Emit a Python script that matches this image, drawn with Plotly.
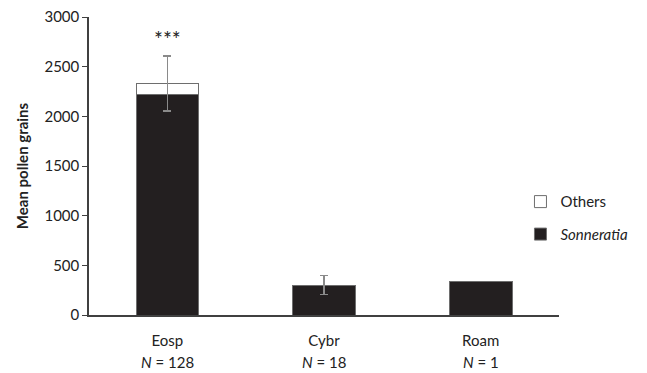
import plotly.graph_objects as go

categories = ["Eosp", "Cybr", "Roam"]
n_values = [128, 18, 1]
sonneratia = [2222, 297, 342]
others = [108, 5, None]
error_total = [278, 96, None]
y_ticks = [0, 500, 1000, 1500, 2000, 2500, 3000]
signif = ["***", "", ""]

FONT = "Lato"
BLACK = "#231f20"
GREY = "#8a8a8a"
TXT = "#222"

fig = go.Figure()
fig.add_trace(go.Bar(
    x=categories, y=sonneratia, name="<i>Sonneratia</i>",
    marker=dict(color=BLACK, line=dict(color="#6e6e6e", width=1)),
    legendgroup="s", legendrank=2,
))
fig.add_trace(go.Bar(
    x=categories, y=others, name="Others",
    marker=dict(color="white", line=dict(color="#6e6e6e", width=1)),
    error_y=dict(type="data", array=error_total, color=GREY, thickness=1.5, width=4),
    legendgroup="o", legendrank=1,
))

for c, s, so, ot, e in zip(categories, signif, sonneratia, others, error_total):
    if s:
        fig.add_annotation(x=c, y=so + (ot or 0) + (e or 0), text=s, showarrow=False,
                           yanchor="bottom", yshift=3,
                           font=dict(family=FONT, size=21, color=TXT))

for c, n in zip(categories, n_values):
    fig.add_annotation(x=c, y=0, xref="x", yref="paper", text=f"<i>N</i> = {n}",
                       showarrow=False, yanchor="middle", yshift=-47,
                       font=dict(family=FONT, size=15, color=TXT))

fig.update_layout(
    barmode="stack",
    bargap=0.6,
    width=639, height=365,
    margin=dict(l=81, r=88, t=9, b=58, autoexpand=False),
    paper_bgcolor="white", plot_bgcolor="white",
    font=dict(family=FONT, size=15, color=TXT),
    showlegend=True,
    legend=dict(x=0.918, y=0.326, xanchor="left", yanchor="middle",
                traceorder="grouped", tracegroupgap=10,
                font=dict(family=FONT, size=15, color=TXT),
                bgcolor="rgba(0,0,0,0)", itemwidth=30),
    xaxis=dict(tickvals=categories, ticktext=categories, showline=True,
               linecolor="#404040", linewidth=1.5, ticks="", showgrid=False,
               automargin=False, ticklabelstandoff=11,
               tickfont=dict(family=FONT, size=15, color=TXT)),
    yaxis=dict(range=[0, 3000], tickvals=y_ticks, showline=True,
               linecolor="#404040", linewidth=1.5, ticks="outside", ticklen=5,
               tickcolor="#404040", showgrid=False, zeroline=False,
               automargin=False, ticklabeloverflow="allow",
               title=dict(text="<b>Mean pollen grains</b>", standoff=12,
                          font=dict(family=FONT, size=15, color=TXT)),
               tickfont=dict(family=FONT, size=15, color=TXT)),
)

fig.write_html("out.html")
